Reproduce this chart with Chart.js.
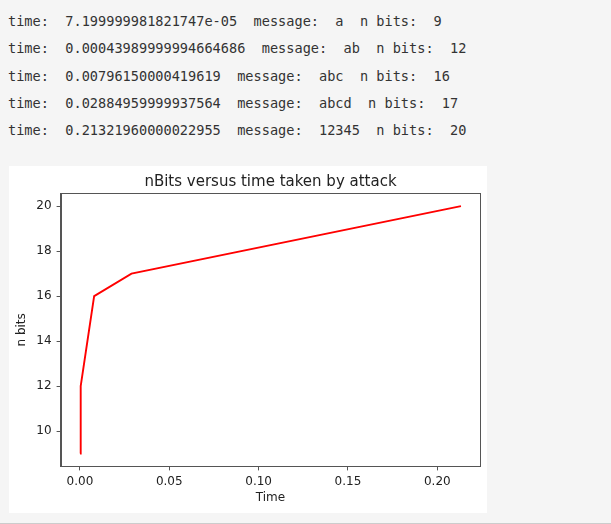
<!DOCTYPE html>
<html>
<head>
<meta charset="utf-8">
<script src="https://cdn.jsdelivr.net/npm/chart.js@4"></script>
<style>
  html, body { margin: 0; padding: 0; }
  body { width: 611px; height: 524px; background: #f5f5f5; position: relative; overflow: hidden; }
  #out { position: absolute; left: 8px; top: 8px; margin: 0; font-family: "DejaVu Sans Mono", monospace; font-size: 13.6px; line-height: 27.3px; color: #333; white-space: pre; }
  #box { position: absolute; left: 9px; top: 166px; width: 478px; height: 347px; background: #fff; }
  #bar { position: absolute; left: 0; top: 523px; width: 611px; height: 1px; background: #cccccc; }
</style>
</head>
<body>
<pre id="out"></pre>
<div id="box"><canvas id="c" width="478" height="347"></canvas></div>
<div id="bar"></div>
<script>
const timeStrings = ["7.199999981821747e-05", "0.00043989999994664686", "0.00796150000419619", "0.02884959999937564", "0.21321960000022955"];
const messages = ["a", "ab", "abc", "abcd", "12345"];
const nBits = [9, 12, 16, 17, 20];
const xTickStep = 0.05;
const yTickStep = 2;

const times = timeStrings.map(Number);

document.getElementById('out').textContent = timeStrings.map((t, i) =>
  'time:  ' + t + '  message:  ' + messages[i] + '  n bits:  ' + nBits[i]).join('\n');

// matplotlib-style 5% margins
const xMinD = Math.min(...times), xMaxD = Math.max(...times);
const yMinD = Math.min(...nBits), yMaxD = Math.max(...nBits);
const xm = (xMaxD - xMinD) * 0.05, ym = (yMaxD - yMinD) * 0.05;

const spines = {
  id: 'spines',
  afterDatasetsDraw(chart) {
    const a = chart.chartArea, ctx = chart.ctx;
    ctx.save();
    ctx.strokeStyle = '#555';
    ctx.lineWidth = 1;
    ctx.strokeRect(Math.round(a.left) - 0.5, Math.round(a.top) - 0.5, Math.round(a.right - a.left) + 1, Math.round(a.bottom - a.top) + 1);
    ctx.restore();
  }
};

const tickFont = { family: 'DejaVu Sans', size: 12 };
new Chart(document.getElementById('c'), {
  type: 'line',
  data: {
    datasets: [{
      data: times.map((t, i) => ({ x: t, y: nBits[i] })),
      borderColor: '#ff0000',
      borderWidth: 1.9,
      pointRadius: 0,
      tension: 0,
      fill: false
    }]
  },
  options: {
    responsive: false,
    animation: false,
    layout: { padding: { left: 0, right: 7, top: 0, bottom: 0 } },
    plugins: {
      legend: { display: false },
      tooltip: { enabled: false },
      title: {
        display: true,
        text: 'nBits versus time taken by attack',
        fullSize: false,
        color: '#222',
        font: { family: 'DejaVu Sans', size: 15, weight: 'normal' },
        padding: { top: 6.7, bottom: 3 }
      }
    },
    scales: {
      x: {
        type: 'linear',
        min: xMinD - xm,
        max: xMaxD + xm,
        afterFit: s => { s.height = 47; },
        ticks: { stepSize: xTickStep, includeBounds: false, color: '#222', font: tickFont, padding: 4, maxRotation: 0,
          callback: v => v.toFixed(2) },
        grid: { drawOnChartArea: false, drawTicks: true, tickLength: 4.4, tickColor: '#555' },
        border: { display: true, color: '#555' },
        title: { display: true, text: 'Time', color: '#222', font: tickFont, padding: { top: 0, bottom: 7.5 } }
      },
      y: {
        type: 'linear',
        min: yMinD - ym,
        max: yMaxD + ym,
        afterFit: s => { s.width = 52; },
        ticks: { stepSize: yTickStep, includeBounds: false, color: '#222', font: tickFont, padding: 5,
          callback: v => String(v) },
        grid: { drawOnChartArea: false, drawTicks: true, tickLength: 4.4, tickColor: '#555' },
        border: { display: true, color: '#555' },
        title: { display: true, text: 'n bits', color: '#222', font: tickFont, padding: { top: 5.8, bottom: 0 } }
      }
    }
  },
  plugins: [spines]
});
</script>
</body>
</html>
